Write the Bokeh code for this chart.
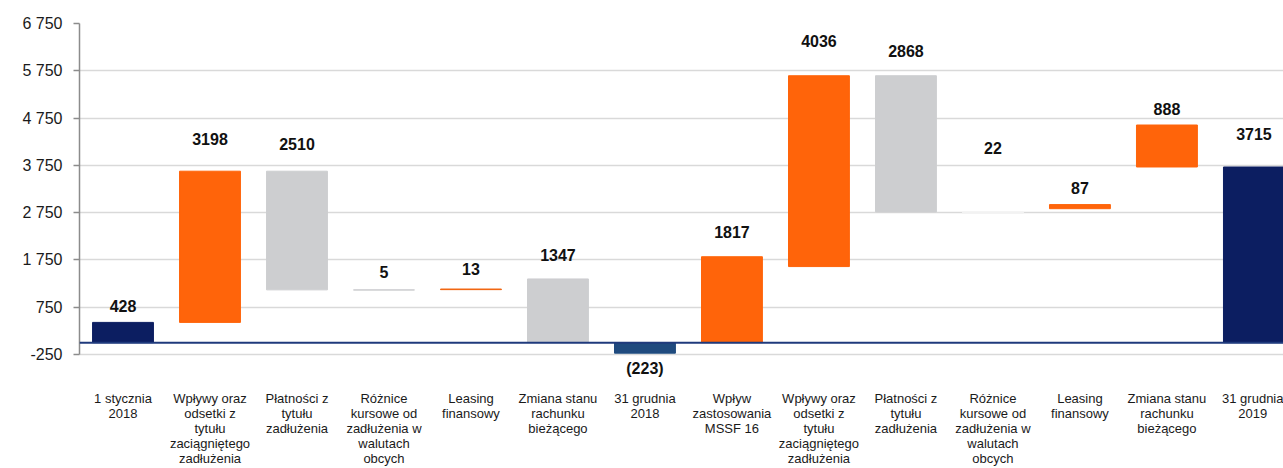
from bokeh.plotting import figure
from bokeh.models import Range1d, FixedTicker, ColumnDataSource, Span
from bokeh.core.properties import value
from bokeh.embed import file_html
from bokeh.resources import INLINE

categories = [
    "1 stycznia\n2018",
    "Wpływy oraz\nodsetki z\ntytułu\nzaciągniętego\nzadłużenia",
    "Płatności z\ntytułu\nzadłużenia",
    "Różnice\nkursowe od\nzadłużenia w\nwalutach\nobcych",
    "Leasing\nfinansowy",
    "Zmiana stanu\nrachunku\nbieżącego",
    "31 grudnia\n2018",
    "Wpływ\nzastosowania\nMSSF 16",
    "Wpływy oraz\nodsetki z\ntytułu\nzaciągniętego\nzadłużenia",
    "Płatności z\ntytułu\nzadłużenia",
    "Różnice\nkursowe od\nzadłużenia w\nwalutach\nobcych",
    "Leasing\nfinansowy",
    "Zmiana stanu\nrachunku\nbieżącego",
    "31 grudnia\n2019",
]
values = [428, 3198, 2510, 5, 13, 1347, -223, 1817, 4036, 2868, 22, 87, 888, 3715]
value_labels = ["428", "3198", "2510", "5", "13", "1347", "(223)", "1817",
                "4036", "2868", "22", "87", "888", "3715"]
bar_bottom = [0, 428, 1116, 1111, 1121, 0, -223, 0, 1609, 2765, 2740, 2833, 3715, 0]
bar_top = [428, 3626, 3626, 1116, 1134, 1347, 0, 1817, 5645, 5645, 2762, 2920, 4603, 3715]
label_y = [780, 4300, 4195, 1502, 1551, 1857, -552, 2337, 6390, 6162, 4123, 3272, 4951, 4420]
bar_colors = ["#0C1E61", "#FF640A", "#CDCED0", "#CDCED0", "#F0640F", "#CDCED0", "#1F4A7E",
              "#FF640A", "#FF640A", "#CDCED0", "#F2F2F2", "#FF640A", "#FF640A", "#0C1E61"]
y_ticks = [-250, 750, 1750, 2750, 3750, 4750, 5750, 6750]
y_tick_labels = ["-250", "750", "1 750", "2 750", "3 750", "4 750", "5 750", "6 750"]

xs = list(range(len(categories)))

p = figure(width=1283, height=468, output_backend="svg", toolbar_location=None,
           x_range=Range1d(-0.5, 13.34), y_range=Range1d(-822, 6750),
           min_border_left=79, min_border_right=0, min_border_top=23, min_border_bottom=0)
p.outline_line_color = None
p.background_fill_color = "white"
p.border_fill_color = "white"

p.xgrid.visible = False
p.ygrid.ticker = FixedTicker(ticks=y_ticks)
p.ygrid.grid_line_color = "#D9D9D9"
p.ygrid.grid_line_width = 1.5

src = ColumnDataSource(dict(x=xs, bottom=bar_bottom, top=bar_top, color=bar_colors))
p.vbar(x="x", width=0.7, bottom="bottom", top="top", fill_color="color",
       line_color="color", line_width=1, source=src)

p.add_layout(Span(location=0, dimension="width", line_color="#1F3A7C", line_width=2))

lsrc = ColumnDataSource(dict(x=xs, y=label_y, t=value_labels))
p.text(x="x", y="y", text="t", source=lsrc, text_align="center", text_baseline="middle",
       text_font=value("Liberation Sans"), text_font_size="16px", text_font_style="bold",
       text_color="#111111")

xa = p.xaxis[0]
xa.ticker = FixedTicker(ticks=xs)
xa.major_label_overrides = {i: c for i, c in zip(xs, categories)}
xa.axis_line_color = None
xa.major_tick_line_color = None
xa.minor_tick_line_color = None
xa.major_tick_out = 0
xa.major_tick_in = 0
xa.major_label_standoff = 9
xa.major_label_text_font = "Liberation Sans"
xa.major_label_text_font_size = "13px"
xa.major_label_text_color = "#1a1a1a"
xa.major_label_text_line_height = 1.0

ya = p.yaxis[0]
ya.ticker = FixedTicker(ticks=y_ticks)
ya.bounds = (-250, 6750)
ya.major_label_overrides = {t: l for t, l in zip(y_ticks, y_tick_labels)}
ya.axis_line_color = "#8C8C8C"
ya.axis_line_width = 1.5
ya.major_tick_line_color = "#8C8C8C"
ya.major_tick_line_width = 1.5
ya.major_tick_out = 6
ya.major_tick_in = 0
ya.minor_tick_line_color = None
ya.major_label_standoff = 11
ya.major_label_text_font = "Liberation Sans"
ya.major_label_text_font_size = "16px"
ya.major_label_text_color = "#1a1a1a"

open("out.html", "w").write(file_html(p, INLINE))
